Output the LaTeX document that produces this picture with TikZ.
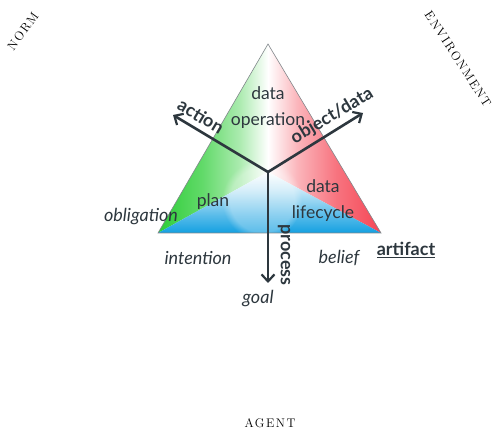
\documentclass[tikz,border=0pt]{standalone}
\usepackage{fontspec}
\newfontfamily\lato{Lato}
\newfontfamily\spacedserif[LetterSpace=12]{Latin Modern Roman}
\usetikzlibrary{arrows.meta,fadings}
\definecolor{ink}{RGB}{45,55,62}
\definecolor{tgreen}{RGB}{45,205,55}
\definecolor{tred}{RGB}{245,70,85}
\definecolor{tblue}{RGB}{20,160,225}
% sector gradients: strong at the outer edge, fading to white at the middle
\pgfdeclarehorizontalshading{greenfade}{100bp}{%
  color(0bp)=(tgreen); color(25bp)=(tgreen); color(45bp)=(tgreen!75!white);
  color(62bp)=(tgreen!40!white); color(75bp)=(white); color(100bp)=(white)}
\pgfdeclarehorizontalshading{redfade}{100bp}{%
  color(0bp)=(white); color(25bp)=(white); color(38bp)=(tred!40!white);
  color(55bp)=(tred!75!white); color(75bp)=(tred); color(100bp)=(tred)}
\pgfdeclareverticalshading{bluefade}{100bp}{%
  color(0bp)=(tblue); color(25bp)=(tblue); color(40bp)=(tblue!70!white);
  color(60bp)=(tblue!25!white); color(75bp)=(white); color(100bp)=(white)}
\tikzset{
  lbl/.style={font=\lato\fontsize{17.5}{26}\selectfont, text=ink, inner sep=1pt, align=center},
  ilbl/.style={lbl, font=\lato\itshape\fontsize{18}{20}\selectfont},
  axislbl/.style={lbl, font=\lato\bfseries\fontsize{18}{20}\selectfont},
  axis/.style={draw=ink, line width=2.6pt, -{Straight Barb[length=7pt,width=13pt,line width=2.2pt]}},
  worldlbl/.style={font=\spacedserif\fontsize{12.5}{14}\selectfont, inner sep=0pt}
}
\begin{document}
\begin{tikzpicture}[x=1pt,y=-1pt]
\useasboundingbox (0,0) rectangle (493,430);
% triangle corners and centre
\coordinate (A) at (268,44);
\coordinate (L) at (158,233);
\coordinate (R) at (381,233);
\coordinate (C) at (268,172);
% coloured sectors
\begin{scope}
  \clip (A) -- (C) -- (L) -- cycle;
  \shade[shading=greenfade] (158,44) rectangle (268,233);
\end{scope}
\begin{scope}
  \clip (A) -- (C) -- (R) -- cycle;
  \shade[shading=redfade] (268,44) rectangle (381,233);
\end{scope}
\begin{scope}
  \clip (L) -- (C) -- (R) -- cycle;
  \shade[shading=bluefade] (158,172) rectangle (381,233);
\end{scope}
\begin{scope}
  \clip (A) -- (L) -- (R) -- cycle;
  \fill[white, path fading=circle with fuzzy edge 20 percent, opacity=0.3] (262,200) circle (40);
\end{scope}
\draw[ink!60, line width=0.6pt] (A) -- (L) -- (R) -- cycle;
% axes
\coordinate (actEnd) at (173,115);
\coordinate (objEnd) at (363,113);
\coordinate (procEnd) at (268,283);
\draw[axis] (C) -- (actEnd);
\draw[axis] (C) -- (objEnd);
\draw[axis] (C) -- (procEnd);
% axis labels
\node[axislbl, rotate=-31] (action) at (201,116) {action};
\node[axislbl, rotate=31] (object) at (332,116) {object/data};
\node[axislbl, rotate=-90] (process) at (284,255) {process};
% region labels
\node[lbl] (op) at (268,108) {data\\operation};
\node[lbl] (plan) at (213,202) {plan};
\node[lbl] (life) at (323,201) {data\\lifecycle};
% mental attitudes
\node[ilbl] (obl) at (141,217) {obligation};
\node[ilbl] (int) at (198,258) {intention};
\node[ilbl] (bel) at (339,258) {belief};
\node[ilbl] (goal) at (258,299) {goal};
\node[axislbl] (art) at (406,250) {\underline{artifact}};
% world corners
\node[worldlbl, rotate=54] (norm) at (23,31) {NORM};
\node[worldlbl, rotate=-57] (env) at (458,59) {ENVIRONMENT};
\node[worldlbl] (agent) at (270,423) {AGENT};
\end{tikzpicture}
\end{document}
